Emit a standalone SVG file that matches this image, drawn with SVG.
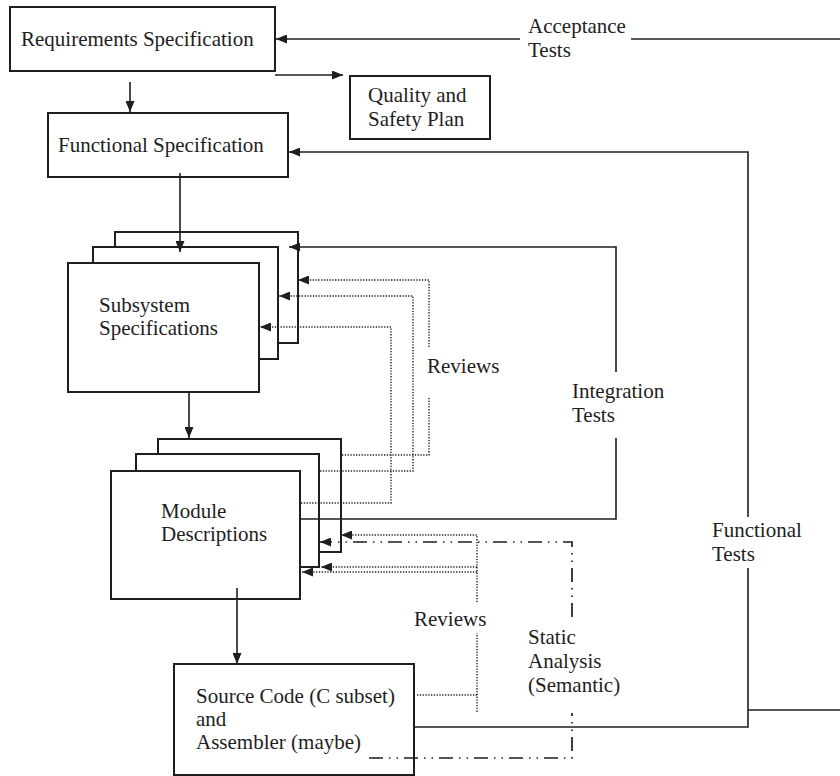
<svg xmlns="http://www.w3.org/2000/svg" width="840" height="776" viewBox="0 0 840 776">
  <style>
    text { font-family: "Liberation Serif", "Times New Roman", serif; font-size: 21px; fill: #1e1e1e; }
    .box { fill: #fff; stroke: #1e1e1e; stroke-width: 2; }
    .solid { fill: none; stroke: #1e1e1e; stroke-width: 1.6; }
    .dot { fill: none; stroke: #1e1e1e; stroke-width: 1.4; stroke-dasharray: 1.3 1.5; }
    .dashdot { fill: none; stroke: #1e1e1e; stroke-width: 1.7; stroke-dasharray: 14 6 1.5 6 1.5 6; }
  </style>
  <defs>
    <marker id="arrow" viewBox="0 0 11 9" refX="11" refY="4.5" markerWidth="11" markerHeight="9" markerUnits="userSpaceOnUse" orient="auto">
      <path d="M0,0 L11,4.5 L0,9 Z" fill="#1e1e1e"/>
    </marker>
  </defs>
  <rect width="840" height="776" fill="#fff"/>

  <!-- document boxes -->
  <g id="requirements-spec">
    <rect class="box" x="10" y="7" width="265" height="64"/>
    <text x="21" y="46">Requirements Specification</text>
  </g>
  <g id="quality-safety-plan">
    <rect class="box" x="350" y="76" width="140" height="63"/>
    <text x="368" y="102">Quality and</text>
    <text x="368" y="126">Safety Plan</text>
  </g>
  <g id="functional-spec">
    <rect class="box" x="48" y="113" width="240" height="64"/>
    <text x="58" y="152">Functional Specification</text>
  </g>
  <g id="subsystem-specs">
    <rect class="box" x="115" y="232" width="183" height="111"/>
    <rect class="box" x="93" y="247" width="185" height="112"/>
    <rect class="box" x="68" y="263" width="191" height="129"/>
    <text x="99" y="312">Subsystem</text>
    <text x="99" y="335">Specifications</text>
  </g>
  <g id="module-descriptions">
    <rect class="box" x="158" y="439" width="183" height="113"/>
    <rect class="box" x="136" y="454" width="183" height="113"/>
    <rect class="box" x="111" y="471" width="189" height="128"/>
    <text x="161" y="518">Module</text>
    <text x="161" y="541">Descriptions</text>
  </g>
  <g id="source-code">
    <rect class="box" x="174" y="664" width="240" height="111"/>
    <text x="196" y="703">Source Code (C subset)</text>
    <text x="196" y="726">and</text>
    <text x="196" y="749">Assembler (maybe)</text>
  </g>

  <!-- connectors -->
  <g id="connectors">
    <!-- development flow -->
    <path class="solid" d="M130,82 V112" marker-end="url(#arrow)"/>
    <path class="solid" d="M275,75 H343" marker-end="url(#arrow)"/>
    <path class="solid" d="M180,173 V252" marker-end="url(#arrow)"/>
    <path class="solid" d="M189,392 V438" marker-end="url(#arrow)"/>
    <path class="solid" d="M237,588 V664" marker-end="url(#arrow)"/>

    <!-- acceptance tests -->
    <path class="solid" d="M840,39 H631"/>
    <path class="solid" d="M520,39 H276" marker-end="url(#arrow)"/>

    <!-- functional tests -->
    <path class="solid" d="M840,710 H748"/>
    <path class="solid" d="M414,727 H748 V568"/>
    <path class="solid" d="M748,517 V152 H289" marker-end="url(#arrow)"/>

    <!-- integration tests -->
    <path class="solid" d="M300,519 H616 V438"/>
    <path class="solid" d="M616,372 V247 H289" marker-end="url(#arrow)"/>

    <!-- subsystem reviews -->
    <path class="dot" d="M342,455 H429 V398"/>
    <path class="dot" d="M429,347 V280 H298" marker-end="url(#arrow)"/>
    <path class="dot" d="M320,471 H413 V296 H279" marker-end="url(#arrow)"/>
    <path class="dot" d="M301,503 H391 V327 H260" marker-end="url(#arrow)"/>

    <!-- module reviews -->
    <path class="dot" d="M417,695 H477 V712"/>
    <path class="dot" d="M477,695 V633"/>
    <path class="dot" d="M477,602 V535 H341" marker-end="url(#arrow)"/>
    <path class="dot" d="M477,567 H321" marker-end="url(#arrow)"/>
    <path class="dot" d="M477,572 H302" marker-end="url(#arrow)"/>

    <!-- static analysis -->
    <path class="dashdot" d="M369,758 H572 V713"/>
    <path class="dashdot" d="M572,617 V542 H320" marker-end="url(#arrow)"/>
  </g>

  <!-- connector labels -->
  <g id="labels">
    <text x="528" y="33">Acceptance</text>
    <text x="528" y="57">Tests</text>
    <text x="427" y="373">Reviews</text>
    <text x="572" y="398">Integration</text>
    <text x="572" y="422">Tests</text>
    <text x="712" y="537">Functional</text>
    <text x="712" y="561">Tests</text>
    <text x="414" y="626">Reviews</text>
    <text x="528" y="644">Static</text>
    <text x="528" y="668">Analysis</text>
    <text x="528" y="692">(Semantic)</text>
  </g>
</svg>
